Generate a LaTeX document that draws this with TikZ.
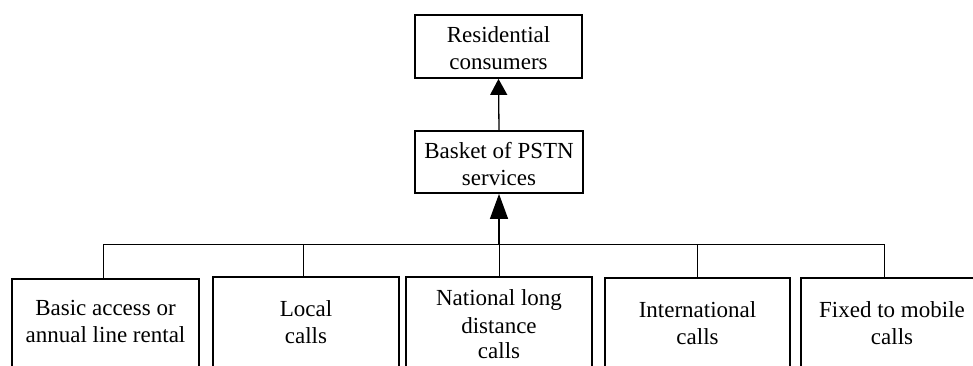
\documentclass[tikz,border=0pt]{standalone}
\usepackage{fontspec}
\setmainfont{Liberation Serif}
\usetikzlibrary{arrows.meta}
\newcommand{\cell}[1]{\begin{tabular}[t]{@{}c@{}}#1\end{tabular}}
\tikzset{
  boxnode/.style={draw, line width=2pt, inner sep=0pt, anchor=base,
    font=\fontsize{23}{27}\selectfont},
  topbox/.style={boxnode, line width=1.8pt},
  busline/.style={line width=1pt},
  arrowline/.style={line width=1.3pt},
}
\begin{document}
\begin{tikzpicture}[x=1pt,y=1pt]
\useasboundingbox (0,0) rectangle (973,365);
\clip (0,0) rectangle (973,365);
% top boxes
\node[topbox, minimum width=167pt, text height=28pt, text depth=35pt] (res) at (498.5,322) {\cell{Residential\\consumers}};
\node[topbox, minimum width=168pt, text height=27pt, text depth=35pt] (bask) at (499,207) {\cell{Basket of PSTN\\services}};
% bottom boxes
\node[boxnode, minimum width=187pt, text height=36pt, text depth=70pt] (b1) at (105.5,50) {\cell{Basic access or\\annual line rental}};
\node[boxnode, minimum width=186pt, text height=39pt, text depth=70pt] (b2) at (306,49) {\cell{Local\\calls}};
\node[boxnode, minimum width=186pt, text height=28pt, text depth=80pt] (b3) at (499,60) {\cell{National long\\[1pt]distance\\[-2pt]calls}};
\node[boxnode, minimum width=185pt, text height=39pt, text depth=70pt] (b4) at (697.5,48) {\cell{International\\calls}};
\node[boxnode, minimum width=182pt, text height=39pt, text depth=70pt] (b5) at (892,48) {\cell{Fixed to mobile\\calls}};
% bus
\coordinate (j1) at (103,121);
\coordinate (j2) at (303,121);
\coordinate (j3) at (499,121);
\coordinate (j4) at (697,121);
\coordinate (j5) at (884,121);
\draw[busline] (j1) -- (j5);
\draw[busline] (j1) -- (j1 |- b1.north);
\draw[busline] (j2) -- (j2 |- b2.north);
\draw[busline] (j3) -- (j3 |- b3.north);
\draw[busline] (j4) -- (j4 |- b4.north);
\draw[busline] (j5) -- (j5 |- b5.north);
% arrows
\draw[arrowline, -{Triangle[length=25pt,width=18pt]}] (j3) -- (bask.south);
\draw[arrowline, -{Triangle[length=16pt,width=17pt]}] (bask.north) -- (res.south);
\end{tikzpicture}
\end{document}
